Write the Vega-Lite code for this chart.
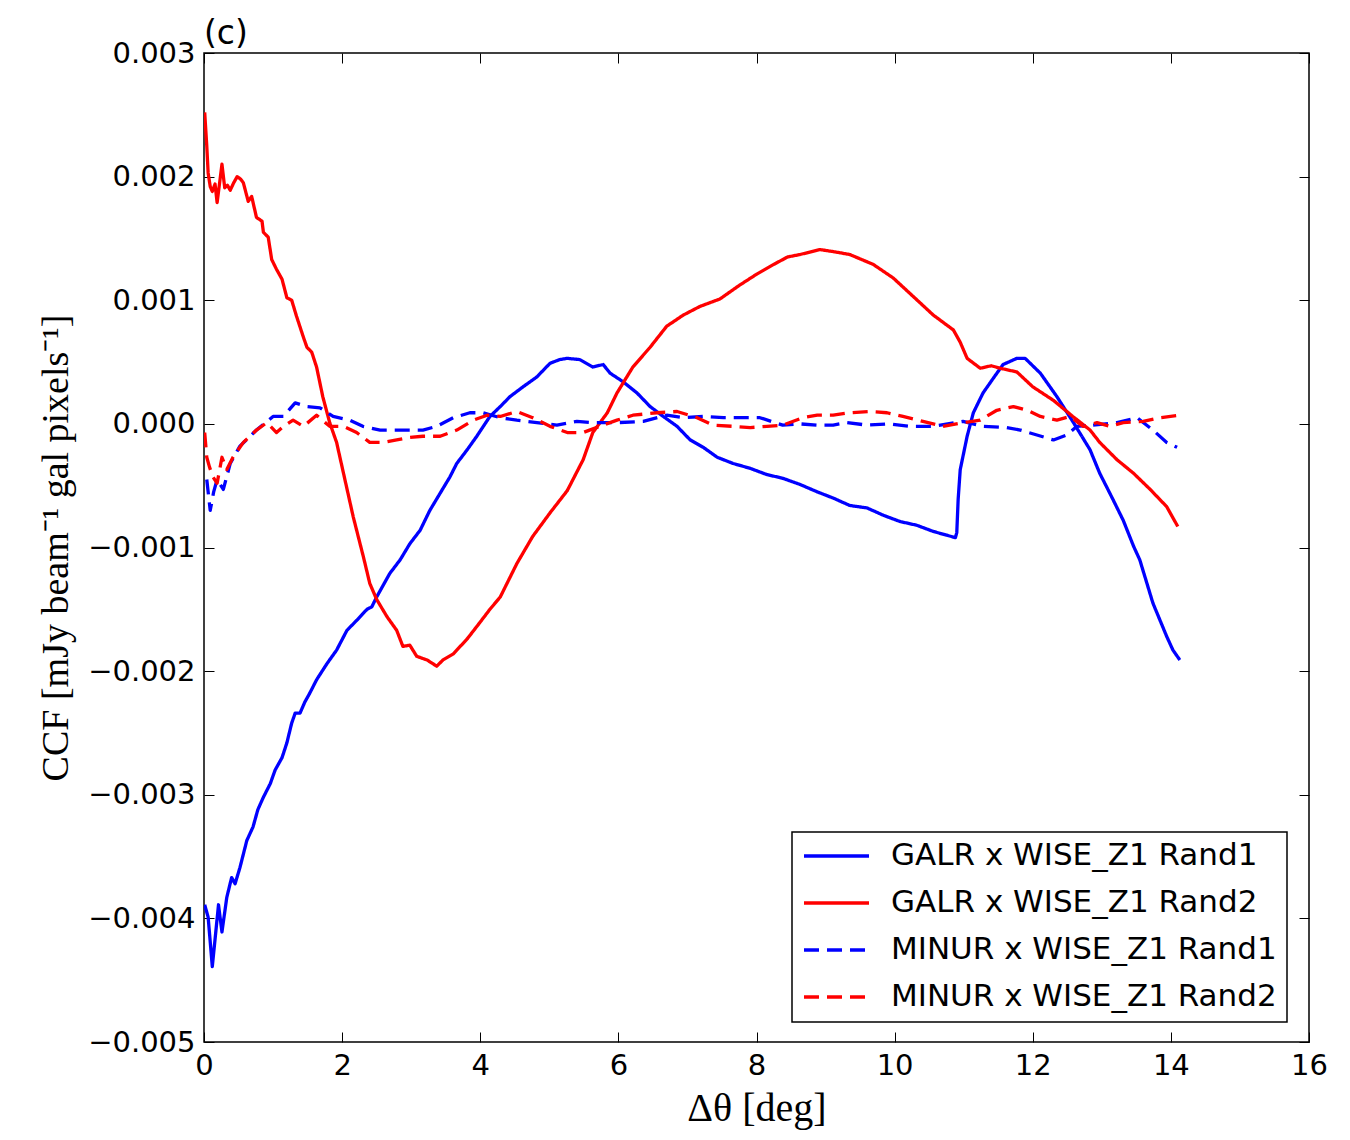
{
  "$schema": "https://vega.github.io/schema/vega-lite/v6.json",
  "autosize": {"type": "none"},
  "padding": {"left": 204, "top": 53, "right": 41, "bottom": 98},
  "width": 1105,
  "height": 989,
  "background": "white",
  "title": {
    "text": "(c)",
    "anchor": "start",
    "frame": "group",
    "font": "DejaVu Sans",
    "fontSize": 33,
    "fontWeight": "normal",
    "color": "black",
    "offset": -12
  },
  "data": {
    "values": [
      {"s": "GALR x WISE_Z1 Rand1", "x": 0.01, "y": -3.89e-3},
      {"s": "GALR x WISE_Z1 Rand1", "x": 0.06, "y": -3.99e-3},
      {"s": "GALR x WISE_Z1 Rand1", "x": 0.12, "y": -4.39e-3},
      {"s": "GALR x WISE_Z1 Rand1", "x": 0.16, "y": -4.17e-3},
      {"s": "GALR x WISE_Z1 Rand1", "x": 0.21, "y": -3.89e-3},
      {"s": "GALR x WISE_Z1 Rand1", "x": 0.26, "y": -4.11e-3},
      {"s": "GALR x WISE_Z1 Rand1", "x": 0.33, "y": -3.83e-3},
      {"s": "GALR x WISE_Z1 Rand1", "x": 0.40, "y": -3.67e-3},
      {"s": "GALR x WISE_Z1 Rand1", "x": 0.45, "y": -3.72e-3},
      {"s": "GALR x WISE_Z1 Rand1", "x": 0.52, "y": -3.59e-3},
      {"s": "GALR x WISE_Z1 Rand1", "x": 0.62, "y": -3.37e-3},
      {"s": "GALR x WISE_Z1 Rand1", "x": 0.71, "y": -3.26e-3},
      {"s": "GALR x WISE_Z1 Rand1", "x": 0.78, "y": -3.12e-3},
      {"s": "GALR x WISE_Z1 Rand1", "x": 0.86, "y": -3.02e-3},
      {"s": "GALR x WISE_Z1 Rand1", "x": 0.96, "y": -2.91e-3},
      {"s": "GALR x WISE_Z1 Rand1", "x": 1.03, "y": -2.80e-3},
      {"s": "GALR x WISE_Z1 Rand1", "x": 1.13, "y": -2.70e-3},
      {"s": "GALR x WISE_Z1 Rand1", "x": 1.20, "y": -2.58e-3},
      {"s": "GALR x WISE_Z1 Rand1", "x": 1.27, "y": -2.42e-3},
      {"s": "GALR x WISE_Z1 Rand1", "x": 1.32, "y": -2.34e-3},
      {"s": "GALR x WISE_Z1 Rand1", "x": 1.39, "y": -2.34e-3},
      {"s": "GALR x WISE_Z1 Rand1", "x": 1.46, "y": -2.25e-3},
      {"s": "GALR x WISE_Z1 Rand1", "x": 1.53, "y": -2.18e-3},
      {"s": "GALR x WISE_Z1 Rand1", "x": 1.63, "y": -2.07e-3},
      {"s": "GALR x WISE_Z1 Rand1", "x": 1.78, "y": -1.94e-3},
      {"s": "GALR x WISE_Z1 Rand1", "x": 1.92, "y": -1.83e-3},
      {"s": "GALR x WISE_Z1 Rand1", "x": 2.07, "y": -1.67e-3},
      {"s": "GALR x WISE_Z1 Rand1", "x": 2.21, "y": -1.59e-3},
      {"s": "GALR x WISE_Z1 Rand1", "x": 2.36, "y": -1.50e-3},
      {"s": "GALR x WISE_Z1 Rand1", "x": 2.43, "y": -1.48e-3},
      {"s": "GALR x WISE_Z1 Rand1", "x": 2.50, "y": -1.40e-3},
      {"s": "GALR x WISE_Z1 Rand1", "x": 2.69, "y": -1.21e-3},
      {"s": "GALR x WISE_Z1 Rand1", "x": 2.84, "y": -1.10e-3},
      {"s": "GALR x WISE_Z1 Rand1", "x": 2.98, "y": -0.97e-3},
      {"s": "GALR x WISE_Z1 Rand1", "x": 3.13, "y": -0.86e-3},
      {"s": "GALR x WISE_Z1 Rand1", "x": 3.27, "y": -0.70e-3},
      {"s": "GALR x WISE_Z1 Rand1", "x": 3.42, "y": -0.56e-3},
      {"s": "GALR x WISE_Z1 Rand1", "x": 3.56, "y": -0.43e-3},
      {"s": "GALR x WISE_Z1 Rand1", "x": 3.66, "y": -0.32e-3},
      {"s": "GALR x WISE_Z1 Rand1", "x": 3.81, "y": -0.21e-3},
      {"s": "GALR x WISE_Z1 Rand1", "x": 3.95, "y": -0.10e-3},
      {"s": "GALR x WISE_Z1 Rand1", "x": 4.14, "y": 0.06e-3},
      {"s": "GALR x WISE_Z1 Rand1", "x": 4.29, "y": 0.14e-3},
      {"s": "GALR x WISE_Z1 Rand1", "x": 4.43, "y": 0.22e-3},
      {"s": "GALR x WISE_Z1 Rand1", "x": 4.62, "y": 0.30e-3},
      {"s": "GALR x WISE_Z1 Rand1", "x": 4.82, "y": 0.38e-3},
      {"s": "GALR x WISE_Z1 Rand1", "x": 5.01, "y": 0.49e-3},
      {"s": "GALR x WISE_Z1 Rand1", "x": 5.15, "y": 0.52e-3},
      {"s": "GALR x WISE_Z1 Rand1", "x": 5.26, "y": 0.53e-3},
      {"s": "GALR x WISE_Z1 Rand1", "x": 5.44, "y": 0.52e-3},
      {"s": "GALR x WISE_Z1 Rand1", "x": 5.63, "y": 0.46e-3},
      {"s": "GALR x WISE_Z1 Rand1", "x": 5.78, "y": 0.48e-3},
      {"s": "GALR x WISE_Z1 Rand1", "x": 5.88, "y": 0.41e-3},
      {"s": "GALR x WISE_Z1 Rand1", "x": 6.07, "y": 0.34e-3},
      {"s": "GALR x WISE_Z1 Rand1", "x": 6.27, "y": 0.25e-3},
      {"s": "GALR x WISE_Z1 Rand1", "x": 6.46, "y": 0.14e-3},
      {"s": "GALR x WISE_Z1 Rand1", "x": 6.65, "y": 0.06e-3},
      {"s": "GALR x WISE_Z1 Rand1", "x": 6.85, "y": -0.02e-3},
      {"s": "GALR x WISE_Z1 Rand1", "x": 7.04, "y": -0.13e-3},
      {"s": "GALR x WISE_Z1 Rand1", "x": 7.23, "y": -0.19e-3},
      {"s": "GALR x WISE_Z1 Rand1", "x": 7.43, "y": -0.27e-3},
      {"s": "GALR x WISE_Z1 Rand1", "x": 7.66, "y": -0.32e-3},
      {"s": "GALR x WISE_Z1 Rand1", "x": 7.91, "y": -0.36e-3},
      {"s": "GALR x WISE_Z1 Rand1", "x": 8.15, "y": -0.41e-3},
      {"s": "GALR x WISE_Z1 Rand1", "x": 8.38, "y": -0.44e-3},
      {"s": "GALR x WISE_Z1 Rand1", "x": 8.63, "y": -0.49e-3},
      {"s": "GALR x WISE_Z1 Rand1", "x": 8.88, "y": -0.55e-3},
      {"s": "GALR x WISE_Z1 Rand1", "x": 9.11, "y": -0.60e-3},
      {"s": "GALR x WISE_Z1 Rand1", "x": 9.35, "y": -0.66e-3},
      {"s": "GALR x WISE_Z1 Rand1", "x": 9.60, "y": -0.68e-3},
      {"s": "GALR x WISE_Z1 Rand1", "x": 9.84, "y": -0.74e-3},
      {"s": "GALR x WISE_Z1 Rand1", "x": 10.08, "y": -0.79e-3},
      {"s": "GALR x WISE_Z1 Rand1", "x": 10.32, "y": -0.82e-3},
      {"s": "GALR x WISE_Z1 Rand1", "x": 10.56, "y": -0.87e-3},
      {"s": "GALR x WISE_Z1 Rand1", "x": 10.75, "y": -0.90e-3},
      {"s": "GALR x WISE_Z1 Rand1", "x": 10.88, "y": -0.92e-3},
      {"s": "GALR x WISE_Z1 Rand1", "x": 10.90, "y": -0.88e-3},
      {"s": "GALR x WISE_Z1 Rand1", "x": 10.92, "y": -0.61e-3},
      {"s": "GALR x WISE_Z1 Rand1", "x": 10.95, "y": -0.37e-3},
      {"s": "GALR x WISE_Z1 Rand1", "x": 11.05, "y": -0.10e-3},
      {"s": "GALR x WISE_Z1 Rand1", "x": 11.14, "y": 0.09e-3},
      {"s": "GALR x WISE_Z1 Rand1", "x": 11.28, "y": 0.25e-3},
      {"s": "GALR x WISE_Z1 Rand1", "x": 11.43, "y": 0.37e-3},
      {"s": "GALR x WISE_Z1 Rand1", "x": 11.57, "y": 0.48e-3},
      {"s": "GALR x WISE_Z1 Rand1", "x": 11.77, "y": 0.53e-3},
      {"s": "GALR x WISE_Z1 Rand1", "x": 11.89, "y": 0.53e-3},
      {"s": "GALR x WISE_Z1 Rand1", "x": 12.11, "y": 0.41e-3},
      {"s": "GALR x WISE_Z1 Rand1", "x": 12.35, "y": 0.22e-3},
      {"s": "GALR x WISE_Z1 Rand1", "x": 12.59, "y": 0.01e-3},
      {"s": "GALR x WISE_Z1 Rand1", "x": 12.83, "y": -0.21e-3},
      {"s": "GALR x WISE_Z1 Rand1", "x": 12.97, "y": -0.40e-3},
      {"s": "GALR x WISE_Z1 Rand1", "x": 13.07, "y": -0.51e-3},
      {"s": "GALR x WISE_Z1 Rand1", "x": 13.16, "y": -0.61e-3},
      {"s": "GALR x WISE_Z1 Rand1", "x": 13.31, "y": -0.78e-3},
      {"s": "GALR x WISE_Z1 Rand1", "x": 13.46, "y": -0.99e-3},
      {"s": "GALR x WISE_Z1 Rand1", "x": 13.55, "y": -1.10e-3},
      {"s": "GALR x WISE_Z1 Rand1", "x": 13.74, "y": -1.45e-3},
      {"s": "GALR x WISE_Z1 Rand1", "x": 13.94, "y": -1.72e-3},
      {"s": "GALR x WISE_Z1 Rand1", "x": 14.03, "y": -1.83e-3},
      {"s": "GALR x WISE_Z1 Rand1", "x": 14.13, "y": -1.91e-3},

      {"s": "GALR x WISE_Z1 Rand2", "x": 0.01, "y": 2.52e-3},
      {"s": "GALR x WISE_Z1 Rand2", "x": 0.04, "y": 2.25e-3},
      {"s": "GALR x WISE_Z1 Rand2", "x": 0.06, "y": 2.03e-3},
      {"s": "GALR x WISE_Z1 Rand2", "x": 0.09, "y": 1.92e-3},
      {"s": "GALR x WISE_Z1 Rand2", "x": 0.12, "y": 1.88e-3},
      {"s": "GALR x WISE_Z1 Rand2", "x": 0.16, "y": 1.94e-3},
      {"s": "GALR x WISE_Z1 Rand2", "x": 0.19, "y": 1.79e-3},
      {"s": "GALR x WISE_Z1 Rand2", "x": 0.26, "y": 2.10e-3},
      {"s": "GALR x WISE_Z1 Rand2", "x": 0.30, "y": 1.91e-3},
      {"s": "GALR x WISE_Z1 Rand2", "x": 0.34, "y": 1.93e-3},
      {"s": "GALR x WISE_Z1 Rand2", "x": 0.38, "y": 1.89e-3},
      {"s": "GALR x WISE_Z1 Rand2", "x": 0.43, "y": 1.95e-3},
      {"s": "GALR x WISE_Z1 Rand2", "x": 0.48, "y": 2.00e-3},
      {"s": "GALR x WISE_Z1 Rand2", "x": 0.53, "y": 1.98e-3},
      {"s": "GALR x WISE_Z1 Rand2", "x": 0.57, "y": 1.95e-3},
      {"s": "GALR x WISE_Z1 Rand2", "x": 0.64, "y": 1.80e-3},
      {"s": "GALR x WISE_Z1 Rand2", "x": 0.69, "y": 1.84e-3},
      {"s": "GALR x WISE_Z1 Rand2", "x": 0.76, "y": 1.67e-3},
      {"s": "GALR x WISE_Z1 Rand2", "x": 0.84, "y": 1.64e-3},
      {"s": "GALR x WISE_Z1 Rand2", "x": 0.86, "y": 1.55e-3},
      {"s": "GALR x WISE_Z1 Rand2", "x": 0.93, "y": 1.51e-3},
      {"s": "GALR x WISE_Z1 Rand2", "x": 0.98, "y": 1.33e-3},
      {"s": "GALR x WISE_Z1 Rand2", "x": 1.05, "y": 1.25e-3},
      {"s": "GALR x WISE_Z1 Rand2", "x": 1.13, "y": 1.17e-3},
      {"s": "GALR x WISE_Z1 Rand2", "x": 1.20, "y": 1.02e-3},
      {"s": "GALR x WISE_Z1 Rand2", "x": 1.27, "y": 1.00e-3},
      {"s": "GALR x WISE_Z1 Rand2", "x": 1.34, "y": 0.87e-3},
      {"s": "GALR x WISE_Z1 Rand2", "x": 1.44, "y": 0.70e-3},
      {"s": "GALR x WISE_Z1 Rand2", "x": 1.49, "y": 0.62e-3},
      {"s": "GALR x WISE_Z1 Rand2", "x": 1.56, "y": 0.58e-3},
      {"s": "GALR x WISE_Z1 Rand2", "x": 1.63, "y": 0.46e-3},
      {"s": "GALR x WISE_Z1 Rand2", "x": 1.72, "y": 0.22e-3},
      {"s": "GALR x WISE_Z1 Rand2", "x": 1.82, "y": 0.01e-3},
      {"s": "GALR x WISE_Z1 Rand2", "x": 1.92, "y": -0.15e-3},
      {"s": "GALR x WISE_Z1 Rand2", "x": 2.02, "y": -0.40e-3},
      {"s": "GALR x WISE_Z1 Rand2", "x": 2.16, "y": -0.75e-3},
      {"s": "GALR x WISE_Z1 Rand2", "x": 2.31, "y": -1.08e-3},
      {"s": "GALR x WISE_Z1 Rand2", "x": 2.40, "y": -1.29e-3},
      {"s": "GALR x WISE_Z1 Rand2", "x": 2.50, "y": -1.42e-3},
      {"s": "GALR x WISE_Z1 Rand2", "x": 2.65, "y": -1.56e-3},
      {"s": "GALR x WISE_Z1 Rand2", "x": 2.79, "y": -1.67e-3},
      {"s": "GALR x WISE_Z1 Rand2", "x": 2.88, "y": -1.80e-3},
      {"s": "GALR x WISE_Z1 Rand2", "x": 2.98, "y": -1.79e-3},
      {"s": "GALR x WISE_Z1 Rand2", "x": 3.08, "y": -1.88e-3},
      {"s": "GALR x WISE_Z1 Rand2", "x": 3.23, "y": -1.91e-3},
      {"s": "GALR x WISE_Z1 Rand2", "x": 3.37, "y": -1.96e-3},
      {"s": "GALR x WISE_Z1 Rand2", "x": 3.46, "y": -1.91e-3},
      {"s": "GALR x WISE_Z1 Rand2", "x": 3.61, "y": -1.86e-3},
      {"s": "GALR x WISE_Z1 Rand2", "x": 3.81, "y": -1.74e-3},
      {"s": "GALR x WISE_Z1 Rand2", "x": 3.99, "y": -1.61e-3},
      {"s": "GALR x WISE_Z1 Rand2", "x": 4.14, "y": -1.50e-3},
      {"s": "GALR x WISE_Z1 Rand2", "x": 4.29, "y": -1.40e-3},
      {"s": "GALR x WISE_Z1 Rand2", "x": 4.53, "y": -1.13e-3},
      {"s": "GALR x WISE_Z1 Rand2", "x": 4.76, "y": -0.91e-3},
      {"s": "GALR x WISE_Z1 Rand2", "x": 5.01, "y": -0.72e-3},
      {"s": "GALR x WISE_Z1 Rand2", "x": 5.26, "y": -0.54e-3},
      {"s": "GALR x WISE_Z1 Rand2", "x": 5.49, "y": -0.29e-3},
      {"s": "GALR x WISE_Z1 Rand2", "x": 5.63, "y": -0.07e-3},
      {"s": "GALR x WISE_Z1 Rand2", "x": 5.84, "y": 0.09e-3},
      {"s": "GALR x WISE_Z1 Rand2", "x": 5.98, "y": 0.25e-3},
      {"s": "GALR x WISE_Z1 Rand2", "x": 6.21, "y": 0.46e-3},
      {"s": "GALR x WISE_Z1 Rand2", "x": 6.46, "y": 0.62e-3},
      {"s": "GALR x WISE_Z1 Rand2", "x": 6.70, "y": 0.79e-3},
      {"s": "GALR x WISE_Z1 Rand2", "x": 6.94, "y": 0.88e-3},
      {"s": "GALR x WISE_Z1 Rand2", "x": 7.18, "y": 0.95e-3},
      {"s": "GALR x WISE_Z1 Rand2", "x": 7.47, "y": 1.01e-3},
      {"s": "GALR x WISE_Z1 Rand2", "x": 7.75, "y": 1.12e-3},
      {"s": "GALR x WISE_Z1 Rand2", "x": 8.00, "y": 1.21e-3},
      {"s": "GALR x WISE_Z1 Rand2", "x": 8.25, "y": 1.29e-3},
      {"s": "GALR x WISE_Z1 Rand2", "x": 8.45, "y": 1.35e-3},
      {"s": "GALR x WISE_Z1 Rand2", "x": 8.63, "y": 1.37e-3},
      {"s": "GALR x WISE_Z1 Rand2", "x": 8.92, "y": 1.41e-3},
      {"s": "GALR x WISE_Z1 Rand2", "x": 9.15, "y": 1.39e-3},
      {"s": "GALR x WISE_Z1 Rand2", "x": 9.35, "y": 1.37e-3},
      {"s": "GALR x WISE_Z1 Rand2", "x": 9.69, "y": 1.29e-3},
      {"s": "GALR x WISE_Z1 Rand2", "x": 9.98, "y": 1.18e-3},
      {"s": "GALR x WISE_Z1 Rand2", "x": 10.27, "y": 1.03e-3},
      {"s": "GALR x WISE_Z1 Rand2", "x": 10.56, "y": 0.88e-3},
      {"s": "GALR x WISE_Z1 Rand2", "x": 10.85, "y": 0.76e-3},
      {"s": "GALR x WISE_Z1 Rand2", "x": 10.95, "y": 0.66e-3},
      {"s": "GALR x WISE_Z1 Rand2", "x": 11.05, "y": 0.53e-3},
      {"s": "GALR x WISE_Z1 Rand2", "x": 11.24, "y": 0.45e-3},
      {"s": "GALR x WISE_Z1 Rand2", "x": 11.40, "y": 0.47e-3},
      {"s": "GALR x WISE_Z1 Rand2", "x": 11.53, "y": 0.45e-3},
      {"s": "GALR x WISE_Z1 Rand2", "x": 11.77, "y": 0.42e-3},
      {"s": "GALR x WISE_Z1 Rand2", "x": 12.00, "y": 0.30e-3},
      {"s": "GALR x WISE_Z1 Rand2", "x": 12.30, "y": 0.19e-3},
      {"s": "GALR x WISE_Z1 Rand2", "x": 12.58, "y": 0.06e-3},
      {"s": "GALR x WISE_Z1 Rand2", "x": 12.83, "y": -0.05e-3},
      {"s": "GALR x WISE_Z1 Rand2", "x": 12.97, "y": -0.15e-3},
      {"s": "GALR x WISE_Z1 Rand2", "x": 13.22, "y": -0.29e-3},
      {"s": "GALR x WISE_Z1 Rand2", "x": 13.46, "y": -0.40e-3},
      {"s": "GALR x WISE_Z1 Rand2", "x": 13.70, "y": -0.53e-3},
      {"s": "GALR x WISE_Z1 Rand2", "x": 13.94, "y": -0.67e-3},
      {"s": "GALR x WISE_Z1 Rand2", "x": 14.10, "y": -0.83e-3},

      {"s": "MINUR x WISE_Z1 Rand1", "x": 0.04, "y": -0.45e-3},
      {"s": "MINUR x WISE_Z1 Rand1", "x": 0.09, "y": -0.70e-3},
      {"s": "MINUR x WISE_Z1 Rand1", "x": 0.14, "y": -0.55e-3},
      {"s": "MINUR x WISE_Z1 Rand1", "x": 0.19, "y": -0.45e-3},
      {"s": "MINUR x WISE_Z1 Rand1", "x": 0.28, "y": -0.53e-3},
      {"s": "MINUR x WISE_Z1 Rand1", "x": 0.38, "y": -0.32e-3},
      {"s": "MINUR x WISE_Z1 Rand1", "x": 0.52, "y": -0.18e-3},
      {"s": "MINUR x WISE_Z1 Rand1", "x": 0.76, "y": -0.05e-3},
      {"s": "MINUR x WISE_Z1 Rand1", "x": 1.00, "y": 0.06e-3},
      {"s": "MINUR x WISE_Z1 Rand1", "x": 1.15, "y": 0.06e-3},
      {"s": "MINUR x WISE_Z1 Rand1", "x": 1.32, "y": 0.17e-3},
      {"s": "MINUR x WISE_Z1 Rand1", "x": 1.49, "y": 0.14e-3},
      {"s": "MINUR x WISE_Z1 Rand1", "x": 1.68, "y": 0.13e-3},
      {"s": "MINUR x WISE_Z1 Rand1", "x": 1.87, "y": 0.06e-3},
      {"s": "MINUR x WISE_Z1 Rand1", "x": 2.11, "y": 0.03e-3},
      {"s": "MINUR x WISE_Z1 Rand1", "x": 2.30, "y": -0.02e-3},
      {"s": "MINUR x WISE_Z1 Rand1", "x": 2.55, "y": -0.05e-3},
      {"s": "MINUR x WISE_Z1 Rand1", "x": 2.79, "y": -0.05e-3},
      {"s": "MINUR x WISE_Z1 Rand1", "x": 2.98, "y": -0.05e-3},
      {"s": "MINUR x WISE_Z1 Rand1", "x": 3.17, "y": -0.05e-3},
      {"s": "MINUR x WISE_Z1 Rand1", "x": 3.37, "y": -0.02e-3},
      {"s": "MINUR x WISE_Z1 Rand1", "x": 3.61, "y": 0.05e-3},
      {"s": "MINUR x WISE_Z1 Rand1", "x": 3.85, "y": 0.09e-3},
      {"s": "MINUR x WISE_Z1 Rand1", "x": 4.04, "y": 0.09e-3},
      {"s": "MINUR x WISE_Z1 Rand1", "x": 4.29, "y": 0.05e-3},
      {"s": "MINUR x WISE_Z1 Rand1", "x": 4.53, "y": 0.03e-3},
      {"s": "MINUR x WISE_Z1 Rand1", "x": 4.82, "y": 0.01e-3},
      {"s": "MINUR x WISE_Z1 Rand1", "x": 5.11, "y": -0.01e-3},
      {"s": "MINUR x WISE_Z1 Rand1", "x": 5.40, "y": 0.02e-3},
      {"s": "MINUR x WISE_Z1 Rand1", "x": 5.63, "y": 0.01e-3},
      {"s": "MINUR x WISE_Z1 Rand1", "x": 5.98, "y": 0.01e-3},
      {"s": "MINUR x WISE_Z1 Rand1", "x": 6.36, "y": 0.02e-3},
      {"s": "MINUR x WISE_Z1 Rand1", "x": 6.70, "y": 0.07e-3},
      {"s": "MINUR x WISE_Z1 Rand1", "x": 6.94, "y": 0.05e-3},
      {"s": "MINUR x WISE_Z1 Rand1", "x": 7.23, "y": 0.06e-3},
      {"s": "MINUR x WISE_Z1 Rand1", "x": 7.52, "y": 0.05e-3},
      {"s": "MINUR x WISE_Z1 Rand1", "x": 7.80, "y": 0.05e-3},
      {"s": "MINUR x WISE_Z1 Rand1", "x": 8.05, "y": 0.05e-3},
      {"s": "MINUR x WISE_Z1 Rand1", "x": 8.38, "y": -0.01e-3},
      {"s": "MINUR x WISE_Z1 Rand1", "x": 8.63, "y": 0.00e-3},
      {"s": "MINUR x WISE_Z1 Rand1", "x": 8.88, "y": -0.01e-3},
      {"s": "MINUR x WISE_Z1 Rand1", "x": 9.11, "y": -0.01e-3},
      {"s": "MINUR x WISE_Z1 Rand1", "x": 9.31, "y": 0.01e-3},
      {"s": "MINUR x WISE_Z1 Rand1", "x": 9.60, "y": -0.01e-3},
      {"s": "MINUR x WISE_Z1 Rand1", "x": 9.93, "y": 0.00e-3},
      {"s": "MINUR x WISE_Z1 Rand1", "x": 10.22, "y": -0.02e-3},
      {"s": "MINUR x WISE_Z1 Rand1", "x": 10.56, "y": -0.02e-3},
      {"s": "MINUR x WISE_Z1 Rand1", "x": 10.99, "y": 0.02e-3},
      {"s": "MINUR x WISE_Z1 Rand1", "x": 11.28, "y": -0.02e-3},
      {"s": "MINUR x WISE_Z1 Rand1", "x": 11.62, "y": -0.03e-3},
      {"s": "MINUR x WISE_Z1 Rand1", "x": 11.82, "y": -0.05e-3},
      {"s": "MINUR x WISE_Z1 Rand1", "x": 12.06, "y": -0.09e-3},
      {"s": "MINUR x WISE_Z1 Rand1", "x": 12.30, "y": -0.13e-3},
      {"s": "MINUR x WISE_Z1 Rand1", "x": 12.49, "y": -0.09e-3},
      {"s": "MINUR x WISE_Z1 Rand1", "x": 12.64, "y": -0.02e-3},
      {"s": "MINUR x WISE_Z1 Rand1", "x": 12.87, "y": -0.01e-3},
      {"s": "MINUR x WISE_Z1 Rand1", "x": 13.22, "y": 0.01e-3},
      {"s": "MINUR x WISE_Z1 Rand1", "x": 13.51, "y": 0.05e-3},
      {"s": "MINUR x WISE_Z1 Rand1", "x": 13.74, "y": -0.05e-3},
      {"s": "MINUR x WISE_Z1 Rand1", "x": 13.94, "y": -0.15e-3},
      {"s": "MINUR x WISE_Z1 Rand1", "x": 14.09, "y": -0.19e-3},

      {"s": "MINUR x WISE_Z1 Rand2", "x": 0.01, "y": -0.07e-3},
      {"s": "MINUR x WISE_Z1 Rand2", "x": 0.04, "y": -0.27e-3},
      {"s": "MINUR x WISE_Z1 Rand2", "x": 0.08, "y": -0.35e-3},
      {"s": "MINUR x WISE_Z1 Rand2", "x": 0.13, "y": -0.43e-3},
      {"s": "MINUR x WISE_Z1 Rand2", "x": 0.19, "y": -0.48e-3},
      {"s": "MINUR x WISE_Z1 Rand2", "x": 0.26, "y": -0.27e-3},
      {"s": "MINUR x WISE_Z1 Rand2", "x": 0.33, "y": -0.37e-3},
      {"s": "MINUR x WISE_Z1 Rand2", "x": 0.42, "y": -0.27e-3},
      {"s": "MINUR x WISE_Z1 Rand2", "x": 0.57, "y": -0.15e-3},
      {"s": "MINUR x WISE_Z1 Rand2", "x": 0.76, "y": -0.05e-3},
      {"s": "MINUR x WISE_Z1 Rand2", "x": 0.91, "y": 0.01e-3},
      {"s": "MINUR x WISE_Z1 Rand2", "x": 1.05, "y": -0.07e-3},
      {"s": "MINUR x WISE_Z1 Rand2", "x": 1.15, "y": -0.02e-3},
      {"s": "MINUR x WISE_Z1 Rand2", "x": 1.29, "y": 0.03e-3},
      {"s": "MINUR x WISE_Z1 Rand2", "x": 1.44, "y": -0.02e-3},
      {"s": "MINUR x WISE_Z1 Rand2", "x": 1.63, "y": 0.07e-3},
      {"s": "MINUR x WISE_Z1 Rand2", "x": 1.82, "y": -0.02e-3},
      {"s": "MINUR x WISE_Z1 Rand2", "x": 2.02, "y": -0.02e-3},
      {"s": "MINUR x WISE_Z1 Rand2", "x": 2.21, "y": -0.07e-3},
      {"s": "MINUR x WISE_Z1 Rand2", "x": 2.40, "y": -0.15e-3},
      {"s": "MINUR x WISE_Z1 Rand2", "x": 2.60, "y": -0.15e-3},
      {"s": "MINUR x WISE_Z1 Rand2", "x": 2.79, "y": -0.13e-3},
      {"s": "MINUR x WISE_Z1 Rand2", "x": 2.98, "y": -0.11e-3},
      {"s": "MINUR x WISE_Z1 Rand2", "x": 3.17, "y": -0.10e-3},
      {"s": "MINUR x WISE_Z1 Rand2", "x": 3.42, "y": -0.10e-3},
      {"s": "MINUR x WISE_Z1 Rand2", "x": 3.66, "y": -0.05e-3},
      {"s": "MINUR x WISE_Z1 Rand2", "x": 3.90, "y": 0.03e-3},
      {"s": "MINUR x WISE_Z1 Rand2", "x": 4.10, "y": 0.07e-3},
      {"s": "MINUR x WISE_Z1 Rand2", "x": 4.29, "y": 0.06e-3},
      {"s": "MINUR x WISE_Z1 Rand2", "x": 4.53, "y": 0.10e-3},
      {"s": "MINUR x WISE_Z1 Rand2", "x": 4.76, "y": 0.05e-3},
      {"s": "MINUR x WISE_Z1 Rand2", "x": 5.01, "y": -0.02e-3},
      {"s": "MINUR x WISE_Z1 Rand2", "x": 5.26, "y": -0.07e-3},
      {"s": "MINUR x WISE_Z1 Rand2", "x": 5.49, "y": -0.07e-3},
      {"s": "MINUR x WISE_Z1 Rand2", "x": 5.73, "y": -0.02e-3},
      {"s": "MINUR x WISE_Z1 Rand2", "x": 5.98, "y": 0.03e-3},
      {"s": "MINUR x WISE_Z1 Rand2", "x": 6.21, "y": 0.07e-3},
      {"s": "MINUR x WISE_Z1 Rand2", "x": 6.56, "y": 0.09e-3},
      {"s": "MINUR x WISE_Z1 Rand2", "x": 6.85, "y": 0.10e-3},
      {"s": "MINUR x WISE_Z1 Rand2", "x": 7.14, "y": 0.05e-3},
      {"s": "MINUR x WISE_Z1 Rand2", "x": 7.37, "y": -0.01e-3},
      {"s": "MINUR x WISE_Z1 Rand2", "x": 7.66, "y": -0.02e-3},
      {"s": "MINUR x WISE_Z1 Rand2", "x": 7.91, "y": -0.03e-3},
      {"s": "MINUR x WISE_Z1 Rand2", "x": 8.15, "y": -0.02e-3},
      {"s": "MINUR x WISE_Z1 Rand2", "x": 8.38, "y": -0.01e-3},
      {"s": "MINUR x WISE_Z1 Rand2", "x": 8.67, "y": 0.05e-3},
      {"s": "MINUR x WISE_Z1 Rand2", "x": 8.88, "y": 0.07e-3},
      {"s": "MINUR x WISE_Z1 Rand2", "x": 9.11, "y": 0.07e-3},
      {"s": "MINUR x WISE_Z1 Rand2", "x": 9.35, "y": 0.09e-3},
      {"s": "MINUR x WISE_Z1 Rand2", "x": 9.64, "y": 0.10e-3},
      {"s": "MINUR x WISE_Z1 Rand2", "x": 9.89, "y": 0.09e-3},
      {"s": "MINUR x WISE_Z1 Rand2", "x": 10.12, "y": 0.06e-3},
      {"s": "MINUR x WISE_Z1 Rand2", "x": 10.41, "y": 0.02e-3},
      {"s": "MINUR x WISE_Z1 Rand2", "x": 10.70, "y": -0.02e-3},
      {"s": "MINUR x WISE_Z1 Rand2", "x": 10.99, "y": 0.01e-3},
      {"s": "MINUR x WISE_Z1 Rand2", "x": 11.24, "y": 0.03e-3},
      {"s": "MINUR x WISE_Z1 Rand2", "x": 11.48, "y": 0.11e-3},
      {"s": "MINUR x WISE_Z1 Rand2", "x": 11.72, "y": 0.14e-3},
      {"s": "MINUR x WISE_Z1 Rand2", "x": 11.92, "y": 0.11e-3},
      {"s": "MINUR x WISE_Z1 Rand2", "x": 12.11, "y": 0.06e-3},
      {"s": "MINUR x WISE_Z1 Rand2", "x": 12.35, "y": 0.03e-3},
      {"s": "MINUR x WISE_Z1 Rand2", "x": 12.54, "y": 0.06e-3},
      {"s": "MINUR x WISE_Z1 Rand2", "x": 12.73, "y": -0.02e-3},
      {"s": "MINUR x WISE_Z1 Rand2", "x": 12.93, "y": 0.01e-3},
      {"s": "MINUR x WISE_Z1 Rand2", "x": 13.12, "y": -0.02e-3},
      {"s": "MINUR x WISE_Z1 Rand2", "x": 13.31, "y": 0.01e-3},
      {"s": "MINUR x WISE_Z1 Rand2", "x": 13.60, "y": 0.02e-3},
      {"s": "MINUR x WISE_Z1 Rand2", "x": 13.84, "y": 0.05e-3},
      {"s": "MINUR x WISE_Z1 Rand2", "x": 14.13, "y": 0.07e-3}
    ]
  },
  "resolve": {"axis": {"x": "independent", "y": "independent"}},
  "layer": [
    {
      "mark": {"type": "line", "strokeJoin": "round", "strokeCap": "butt", "clip": true},
      "encoding": {
        "x": {
          "field": "x",
          "type": "quantitative",
          "scale": {"domain": [0, 16], "nice": false, "zero": false},
          "axis": {
            "orient": "bottom",
            "values": [0, 2, 4, 6, 8, 10, 12, 14, 16],
            "title": "Δθ  [deg]",
            "titleFontSize": 40,
            "labelPadding": 19,
            "titlePadding": 8
          }
        },
        "y": {
          "field": "y",
          "type": "quantitative",
          "scale": {"domain": [-0.005, 0.003], "nice": false, "zero": false},
          "axis": {
            "orient": "left",
            "values": [-0.005, -0.004, -0.003, -0.002, -0.001, 0, 0.001, 0.002, 0.003],
            "format": ".3f",
            "title": "CCF [mJy beam⁻¹ gal pixels⁻¹]",
            "titleFontSize": 38,
            "labelPadding": 19,
            "titlePadding": 12
          }
        },
        "color": {
          "field": "s",
          "type": "nominal",
          "scale": {
            "domain": ["GALR x WISE_Z1 Rand1", "GALR x WISE_Z1 Rand2", "MINUR x WISE_Z1 Rand1", "MINUR x WISE_Z1 Rand2"],
            "range": ["#0000ff", "#ff0000", "#0000ff", "#ff0000"]
          },
          "legend": {"title": null}
        },
        "strokeDash": {
          "field": "s",
          "type": "nominal",
          "scale": {
            "domain": ["GALR x WISE_Z1 Rand1", "GALR x WISE_Z1 Rand2", "MINUR x WISE_Z1 Rand1", "MINUR x WISE_Z1 Rand2"],
            "range": [[1, 0], [1, 0], [15, 8], [15, 8]]
          },
          "legend": {"title": null}
        },
        "strokeWidth": {
          "field": "s",
          "type": "nominal",
          "scale": {
            "domain": ["GALR x WISE_Z1 Rand1", "GALR x WISE_Z1 Rand2", "MINUR x WISE_Z1 Rand1", "MINUR x WISE_Z1 Rand2"],
            "range": [3.3, 3.3, 4, 4]
          },
          "legend": null
        },
        "order": {"field": "x", "type": "quantitative"}
      }
    },
    {
      "mark": {"type": "line", "strokeOpacity": 0},
      "encoding": {
        "x": {
          "field": "x",
          "type": "quantitative",
          "axis": {
            "orient": "top",
            "values": [0, 2, 4, 6, 8, 10, 12, 14, 16],
            "labels": false,
            "title": null
          }
        },
        "y": {
          "field": "y",
          "type": "quantitative",
          "axis": {
            "orient": "right",
            "values": [-0.005, -0.004, -0.003, -0.002, -0.001, 0, 0.001, 0.002, 0.003],
            "labels": false,
            "title": null
          }
        },
        "detail": {"field": "s", "type": "nominal"}
      }
    }
  ],
  "config": {
    "view": {"stroke": "black", "strokeWidth": 1.5},
    "axis": {
      "domain": false,
      "grid": false,
      "ticks": true,
      "tickColor": "black",
      "tickSize": -10,
      "tickWidth": 1,
      "labelFont": "DejaVu Sans",
      "labelFontSize": 29,
      "labelColor": "black",
      "labelFlush": false,
      "labelOverlap": false,
      "titleFont": "Liberation Serif",
      "titleFontSize": 36,
      "titleFontWeight": "normal",
      "titleColor": "black"
    },
    "legend": {
      "orient": "none",
      "legendX": 588,
      "legendY": 779,
      "strokeColor": "black",
      "strokeWidth": 1.5,
      "fillColor": "white",
      "padding": 10,
      "labelFont": "DejaVu Sans",
      "labelFontSize": 31,
      "labelColor": "black",
      "labelOffset": 20,
      "symbolType": "stroke",
      "symbolSize": 4225,
      "symbolStrokeWidth": 3.5,
      "clipHeight": 28,
      "rowPadding": 16,
      "labelLimit": 0
    }
  }
}
